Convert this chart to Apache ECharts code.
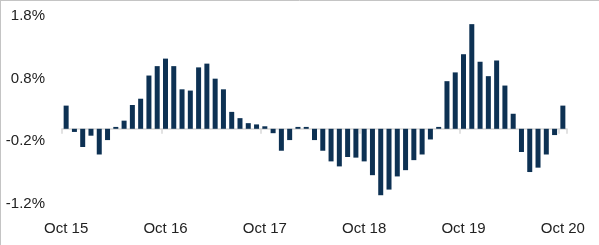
<!DOCTYPE html>
<html>
<head>
<meta charset="utf-8">
<script src="https://cdn.jsdelivr.net/npm/echarts@6/dist/echarts.min.js"></script>
<style>
  html, body { margin: 0; padding: 0; background: #fff; }
  #chart { width: 599px; height: 245px; }
</style>
</head>
<body>
<div id="chart"></div>
<script>
const categories = [
  "Oct 15","Nov 15","Dec 15","Jan 16","Feb 16","Mar 16","Apr 16","May 16","Jun 16","Jul 16","Aug 16","Sep 16",
  "Oct 16","Nov 16","Dec 16","Jan 17","Feb 17","Mar 17","Apr 17","May 17","Jun 17","Jul 17","Aug 17","Sep 17",
  "Oct 17","Nov 17","Dec 17","Jan 18","Feb 18","Mar 18","Apr 18","May 18","Jun 18","Jul 18","Aug 18","Sep 18",
  "Oct 18","Nov 18","Dec 18","Jan 19","Feb 19","Mar 19","Apr 19","May 19","Jun 19","Jul 19","Aug 19","Sep 19",
  "Oct 19","Nov 19","Dec 19","Jan 20","Feb 20","Mar 20","Apr 20","May 20","Jun 20","Jul 20","Aug 20","Sep 20",
  "Oct 20"
];
const values = [
  0.37, -0.05, -0.29, -0.11, -0.41, -0.18, 0.03, 0.13, 0.38, 0.48, 0.85, 1.00,
  1.12, 1.00, 0.63, 0.61, 0.98, 1.04, 0.80, 0.63, 0.27, 0.17, 0.09, 0.07,
  0.04, -0.07, -0.35, -0.18, 0.03, 0.03, -0.18, -0.35, -0.52, -0.60, -0.45, -0.46,
  -0.52, -0.74, -1.06, -0.97, -0.76, -0.66, -0.50, -0.41, -0.17, 0.03, 0.76, 0.90,
  1.19, 1.67, 1.07, 0.84, 1.09, 0.69, 0.24, -0.37, -0.69, -0.62, -0.41, -0.10,
  0.37
];
const yTicks = [-1.2, -0.2, 0.8, 1.8];

const FONT = "Liberation Sans";
const chart = echarts.init(document.getElementById('chart'), null, { renderer: 'canvas' });
chart.setOption({
  animation: false,
  graphic: [
    { type: 'line', shape: { x1: 0, y1: 0.5, x2: 599, y2: 0.5 }, style: { stroke: '#c4c4c4', lineWidth: 1 } },
    { type: 'line', shape: { x1: 0.5, y1: 0, x2: 0.5, y2: 245 }, style: { stroke: '#c4c4c4', lineWidth: 1 } }
  ],
  grid: { left: 62, right: 32, top: 16, bottom: 41 },
  xAxis: [
    {
      type: 'category', data: categories, boundaryGap: true,
      axisLine: { onZero: true, lineStyle: { color: '#d9d9d9', width: 1.5 } },
      axisTick: { show: true, interval: 11, length: 5, lineStyle: { color: '#d9d9d9', width: 1.5 } },
      axisLabel: { show: false }
    },
    {
      type: 'category', data: categories, boundaryGap: true, position: 'bottom',
      axisLine: { show: false, onZero: false },
      axisTick: { show: false },
      axisLabel: { interval: 11, margin: 17, color: '#222', fontFamily: FONT, fontSize: 15 }
    }
  ],
  yAxis: {
    type: 'value', min: -1.2, max: 1.8,
    axisLine: { show: false }, axisTick: { show: false },
    splitLine: { show: false },
    axisLabel: {
      customValues: yTicks, margin: 17, color: '#222', fontFamily: FONT, fontSize: 15,
      formatter: v => v.toFixed(1) + '%'
    }
  },
  series: [{
    type: 'bar', data: values, xAxisIndex: 0, barWidth: 5,
    itemStyle: { color: '#0d3153' }
  }]
});
</script>
</body>
</html>
